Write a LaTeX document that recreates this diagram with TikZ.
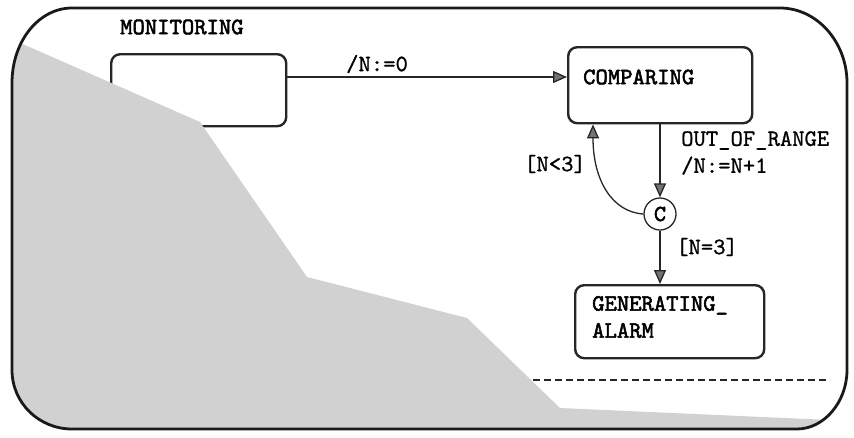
\documentclass[tikz,border=0pt]{standalone}
\usepackage{fontspec}
\newfontfamily\lblfont{lmmono10-regular}[Extension=.otf, FakeBold=0.8]
\newfontfamily\stfont{lmmono10-regular}[Extension=.otf, FakeBold=2.2]
\usetikzlibrary{arrows.meta}
\begin{document}
\begin{tikzpicture}[x=1pt,y=-1pt,
  statebox/.style={draw=black!85, line width=2.4pt, rounded corners=9pt},
  lbl/.style={font=\fontsize{23.5}{27}\selectfont\lblfont, inner sep=0pt, anchor=west},
  stname/.style={font=\fontsize{23.5}{27}\selectfont\stfont, inner sep=0pt, anchor=west, align=left},
  trans/.style={draw=black!85, line width=1.3pt, -{Triangle[length=14pt,width=12pt,fill=black!55]}},
  junction/.style={draw=black!85, line width=1.3pt, circle, minimum size=32pt, inner sep=0pt, font=\fontsize{23}{24}\selectfont\stfont}
]
\useasboundingbox (0,0) rectangle (854,437);
% outer boundary path
\def\outerpath{(12,83) .. controls (12,41) and (39,8) .. (72,8) -- (780,8)
   .. controls (817,8) and (847,42) .. (847,83) -- (847,370)
   .. controls (847,402) and (824,429) .. (797,429) -- (72,429)
   .. controls (39,429) and (12,403) .. (12,370) -- cycle}
% states
\node[statebox, minimum width=175pt, minimum height=72pt, anchor=north west] (init) at (110,53) {};
\node[statebox, minimum width=184pt, minimum height=76pt, anchor=north west] (cmp) at (567,46) {};
\node[stname] (cmptxt) at (583,77) {COMPARING};
\node[statebox, minimum width=189pt, minimum height=73pt, anchor=north west] (gen) at (574,284) {};
\node[stname] (gentxt) at (592,317) {GENERATING\_\\ALARM};
\node[junction] (c) at (660,214) {C};
% transitions
\draw[trans] (init.east |- 0,77) coordinate (a1) -- (cmp.west |- a1);
\node[lbl] (l0) at (346,64) {/N:=0};
\draw[trans] (cmp.south -| c) -- (c.north);
\node[lbl, align=left] (l1) at (681,153) {OUT\_OF\_RANGE\\/N:=N+1};
\draw[trans] (c.west) .. controls (612,212) and (593,180) .. (cmp.south -| 593,0);
\node[lbl, anchor=east] (l2) at (586,164) {[N<3]};
\draw[trans] (c.south) -- (gen.north -| c);
\node[lbl] (l3) at (676,247) {[N=3]};
\coordinate (d1) at (500,380);
\coordinate (d2) at (830,380);
\draw[line width=1.8pt, dash pattern=on 7pt off 4pt, black!85] (d1) -- (d2);
% shaded region
\begin{scope}
\clip \outerpath;
\fill[black!18] (0,34) -- (200,122) -- (307,277) -- (467,318) -- (560,408) -- (830,420) -- (860,418) -- (860,440) -- (0,440) -- cycle;
\end{scope}
\draw[line width=2.8pt, black!90] \outerpath;
\node[stname] (mon) at (120,27) {MONITORING};
\end{tikzpicture}
\end{document}
